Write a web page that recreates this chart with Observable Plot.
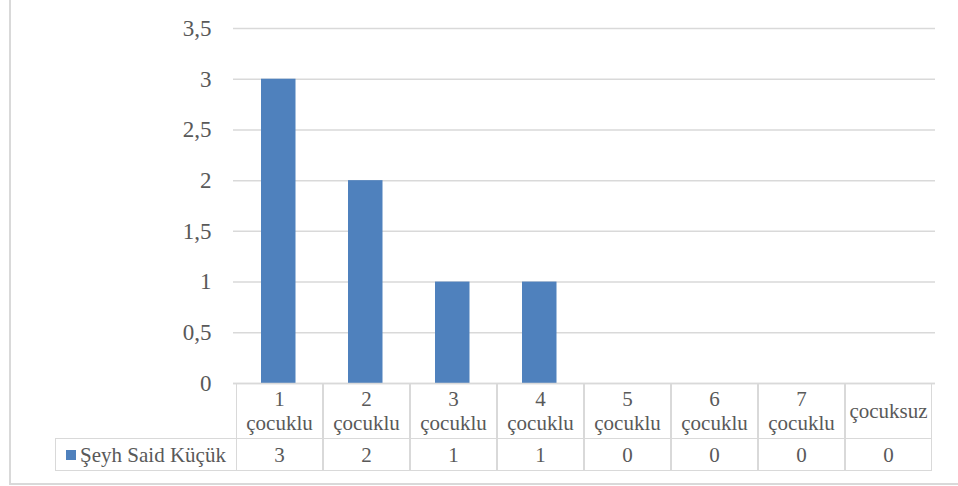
<!DOCTYPE html>
<html>
<head>
<meta charset="utf-8">
<script src="https://cdn.jsdelivr.net/npm/d3@7"></script>
<script src="https://cdn.jsdelivr.net/npm/@observablehq/plot@0.6"></script>
<style>
  body { margin: 0; background: #fff; }
  #wrap { position: relative; width: 958px; height: 486px; overflow: hidden; font-family: "Times New Roman", "Liberation Serif", Tinos, "DejaVu Serif", serif; color: #595959; }
  #wrap svg, #wrap svg text { font-family: "Times New Roman", "Liberation Serif", Tinos, "DejaVu Serif", serif !important; }
  #frame { position: absolute; left: 9px; top: -5px; width: 960px; height: 490px; border-left: 2px solid #d9d9d9; border-bottom: 2px solid #d9d9d9; box-sizing: border-box; }
  #chart { position: absolute; left: 0; top: 0; }
  .cell { position: absolute; box-sizing: border-box; display: flex; align-items: center; justify-content: center; text-align: center; font-family: "Times New Roman", "Liberation Serif", Tinos, "DejaVu Serif", serif; font-size: 21px; line-height: 24px; color: #595959; white-space: nowrap; }
</style>
</head>
<body>
<div id="wrap">
  <div id="frame"></div>
  <div id="chart"></div>
</div>
<script>
const categories = ["1 çocuklu", "2 çocuklu", "3 çocuklu", "4 çocuklu", "5 çocuklu", "6 çocuklu", "7 çocuklu", "çocuksuz"];
const values = [3, 2, 1, 1, 0, 0, 0, 0];
const seriesName = "Şeyh Said Küçük";
const yTicks = [0, 0.5, 1, 1.5, 2, 2.5, 3, 3.5];

const fmt = d => String(d).replace(".", ",");
const barColor = "#4f81bd";
const lineColor = "#d9d9d9";

const chart = Plot.plot({
  width: 958,
  height: 486,
  marginTop: 28,
  marginBottom: 103,
  marginLeft: 233,
  marginRight: 23,
  style: { fontSize: "22px", color: "#595959", background: "transparent", overflow: "visible" },
  x: { domain: categories, padding: 0, axis: null },
  y: { domain: [0, 3.5], axis: null },
  marks: [
    Plot.gridY(yTicks, { stroke: lineColor, strokeOpacity: 1, strokeWidth: 1.5 }),
    Plot.axisY(yTicks, { tickSize: 0, tickPadding: 22, tickFormat: fmt, label: null, fontSize: 23, fill: "#595959" }),
    Plot.barY(categories, { x: categories, y: values, fill: barColor, insetLeft: 25, insetRight: 27.5 }),
    Plot.ruleY([0], { stroke: lineColor, strokeWidth: 1.5 })
  ]
});
document.getElementById("chart").appendChild(chart);

// Data table below the plot, aligned with Plot's x band scale
const xs = chart.scale("x");
const ys = chart.scale("y");
const bw = xs.bandwidth;
const top0 = ys.apply(0);
const headerH = 55;
const rowH = 33;
const legendLeft = 55;
const wrap = document.getElementById("wrap");
const border = "1.5px solid " + lineColor;

function addCell(left, top, width, height, html, borders) {
  const d = document.createElement("div");
  d.className = "cell";
  d.style.left = left + "px";
  d.style.top = top + "px";
  d.style.width = width + "px";
  d.style.height = height + "px";
  for (const b of borders) d.style["border" + b] = border;
  d.innerHTML = html;
  wrap.appendChild(d);
}

categories.forEach((c, i) => {
  const left = xs.apply(c);
  const parts = c.split(" ");
  const label = parts.length > 1 ? parts[0] + "<br>" + parts.slice(1).join(" ") : c;
  addCell(left, top0, bw, headerH, label, ["Left", "Right", "Top"]);
  addCell(left, top0 + headerH, bw, rowH, String(values[i]), ["Left", "Right", "Top", "Bottom"]);
});

// legend cell
const x0 = xs.apply(categories[0]);
addCell(legendLeft, top0 + headerH, x0 - legendLeft, rowH,
  `<span style="display:inline-block;width:10px;height:10px;background:${barColor};margin-right:4px;"></span>${seriesName}`,
  ["Left", "Top", "Bottom"]);
</script>
</body>
</html>
